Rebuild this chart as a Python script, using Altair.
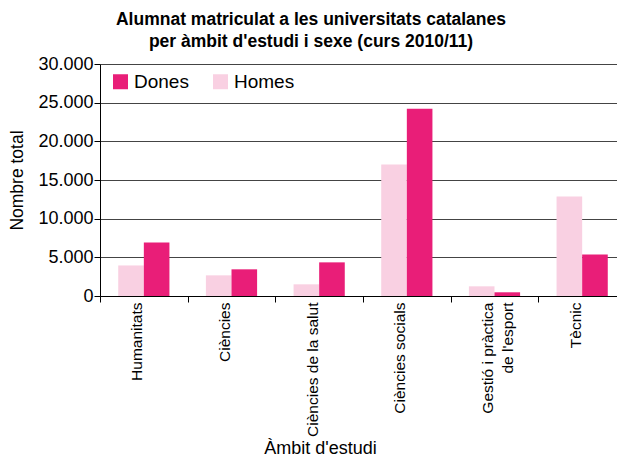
import altair as alt
import pandas as pd

categories = ["Humanitats", "Ciències", "Ciències de la salut", "Ciències socials",
              "Gestió i pràctica de l'esport", "Tècnic"]
homes = [3950, 2670, 1510, 17000, 1250, 12870]
dones = [6930, 3450, 4350, 24200, 480, 5380]
series = ["Dones", "Homes"]
colors = ["#E91E78", "#F9D0E2"]
y_ticks = [0, 5000, 10000, 15000, 20000, 25000, 30000]
title_lines = ["Alumnat matriculat a les universitats catalanes",
               "per àmbit d'estudi i sexe (curs 2010/11)"]

rows = []
for c, h, d in zip(categories, homes, dones):
    rows.append({"ambit": c, "sexe": "Homes", "valor": h})
    rows.append({"ambit": c, "sexe": "Dones", "valor": d})
df = pd.DataFrame(rows)

FONT = "Liberation Sans"
x_label_expr = '''datum.label == "Gestió i pràctica de l'esport" ? ["Gestió i pràctica", "de l'esport"] : datum.label'''
y_label_expr = "replace(format(datum.value, ','), ',', '.')"

chart = alt.Chart(df).mark_bar().encode(
    x=alt.X("ambit:N", sort=categories, title="Àmbit d'estudi",
            scale=alt.Scale(paddingInner=0, paddingOuter=0, range=[0, 526]),
            axis=alt.Axis(labelAngle=-90, labelAlign="right", labelBaseline="middle",
                          labelExpr=x_label_expr, labelFontSize=15.5, labelFont=FONT,
                          labelColor="black", labelPadding=0, labelLineHeight=20,
                          labelOffset=-7,
                          tickBand="extent", tickSize=6, tickColor="black",
                          domainColor="black", grid=False,
                          titleFont=FONT, titleFontSize=18, titleFontWeight="normal",
                          titleColor="black", titleX=220, titleY=157,
                          titleBaseline="alphabetic", titleAnchor="middle")),
    xOffset=alt.XOffset("sexe:N", sort=["Homes", "Dones"],
                        scale=alt.Scale(paddingInner=0, paddingOuter=0.712)),
    y=alt.Y("valor:Q", title="Nombre total",
            scale=alt.Scale(domain=[0, 30000]),
            axis=alt.Axis(values=y_ticks, labelExpr=y_label_expr, labelFontSize=18,
                          labelFont=FONT, labelColor="black", labelPadding=1,
                          tickSize=6, tickColor="black", domainColor="black",
                          gridColor="#444444", gridWidth=1,
                          titleFont=FONT, titleFontSize=17.5, titleFontWeight="normal",
                          titleColor="black", titlePadding=11)),
    color=alt.Color("sexe:N", scale=alt.Scale(domain=series, range=colors),
                    legend=alt.Legend(title=None, orient="none", legendX=11, legendY=8,
                                      direction="horizontal", symbolType="square",
                                      symbolSize=225, symbolStrokeWidth=0,
                                      labelFont=FONT, labelFontSize=19, labelColor="black",
                                      labelOffset=4, columnPadding=22, padding=0)),
).properties(
    width=517, height=232,
    title=alt.Title(text=title_lines, font=FONT, fontSize=17.5, fontWeight="bold",
                    color="black", anchor="middle", dx=-47.5, offset=5, lineHeight=22),
    padding={"left": 92, "top": 56, "right": 0, "bottom": 162},
    autosize=alt.AutoSizeParams(type="none"),
).configure_view(stroke=None)

chart.save("out.html", embed_options={"renderer": "svg", "actions": False})
